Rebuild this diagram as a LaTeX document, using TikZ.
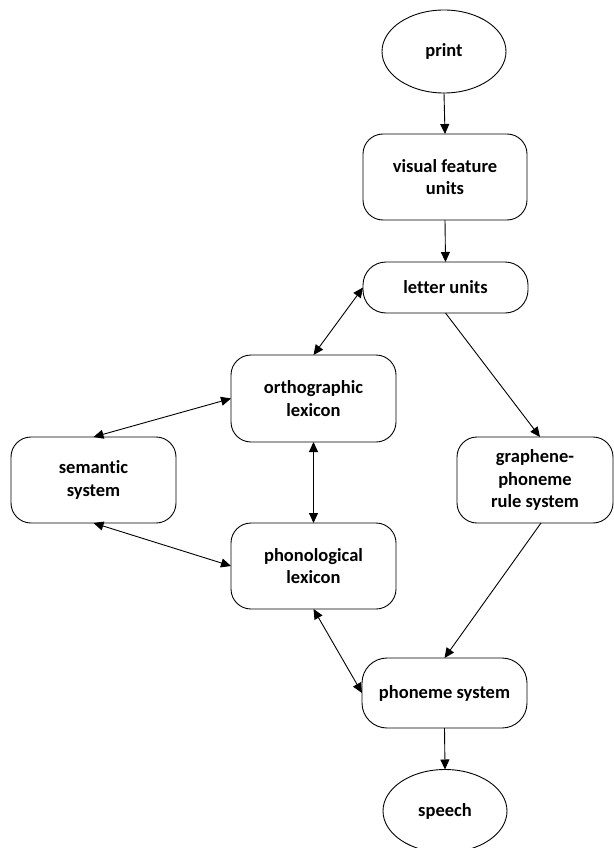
\documentclass[tikz,border=0pt]{standalone}
\usepackage{fontspec}
\setmainfont[Ligatures=NoCommon]{Carlito}
\usetikzlibrary{arrows.meta,shapes.geometric}

\tikzset{
  base/.style={draw, line width=0.9pt, inner sep=0pt, outer sep=0pt, align=center,
    font=\fontsize{18.5}{22.5}\selectfont\bfseries},
  stagebox/.style={base, rectangle, rounded corners=20pt},
  endpoint/.style={base, ellipse, minimum width=124pt, minimum height=83pt},
  link/.style={line width=0.9pt, -{Triangle[length=10pt,width=9pt]}},
  duallink/.style={line width=0.9pt, {Triangle[length=10pt,width=9pt]}-{Triangle[length=10pt,width=9pt]}}
}

\begin{document}
\begin{tikzpicture}[x=1pt, y=-1pt]
  \useasboundingbox (0,0) rectangle (613,848);

  % input and output
  \node[endpoint] (print) at (444,51.5) {print};
  \node[endpoint] (speech) at (445,811) {speech};

  % processing stages
  \node[stagebox, minimum width=164pt, minimum height=86pt] (visual) at (445,177) {visual feature\\units};
  \node[stagebox, minimum width=165pt, minimum height=51pt, rounded corners=23pt] (letter) at (445.5,287.5) {letter units};
  \node[stagebox, minimum width=165pt, minimum height=87pt] (ortho) at (313.5,398.5) {orthographic\\lexicon};
  \node[stagebox, minimum width=165pt, minimum height=86pt] (semantic) at (93.5,480) {semantic\\system};
  \node[stagebox, minimum width=156pt, minimum height=86pt] (gpc) at (535,480) {graphene-\\phoneme\\rule system};
  \node[stagebox, minimum width=165pt, minimum height=86pt] (phono) at (313.5,566) {phonological\\lexicon};
  \node[stagebox, minimum width=165pt, minimum height=70pt, rounded corners=25pt] (phoneme) at (444.5,693) {phoneme system};

  % connections
  \draw[link] (print.south) -- (visual.north);
  \draw[link] (visual.south) -- (letter.north);
  \draw[duallink] (letter.west) -- (ortho.north);
  \draw[link] (letter.south) -- ([xshift=5pt]gpc.north);
  \draw[duallink] (ortho.west) -- (semantic.north);
  \draw[duallink] (semantic.south) -- (phono.west);
  \draw[duallink] (ortho.south) -- (phono.north);
  \draw[link] ([xshift=6pt]gpc.south) -- (phoneme.north);
  \draw[duallink] (phono.south) -- (phoneme.west);
  \draw[link] (phoneme.south) -- (speech.north);
\end{tikzpicture}
\end{document}
